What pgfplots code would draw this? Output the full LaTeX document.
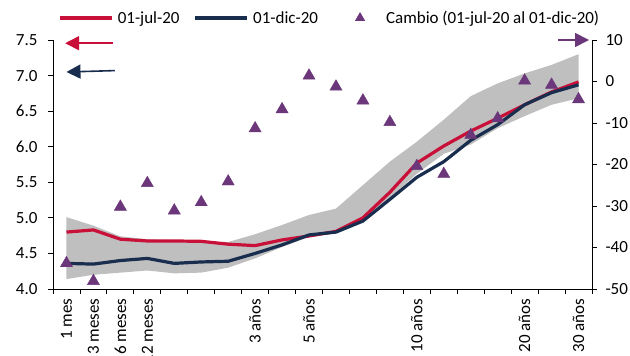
\documentclass[border=0pt]{standalone}
\usepackage{pgfplots}
\pgfplotsset{compat=1.18}
\usepackage{pgfplotstable}
\usepgfplotslibrary{fillbetween}
\usetikzlibrary{arrows.meta}
\usepackage{fontspec}
\setmainfont{Carlito}
\definecolor{cred}{RGB}{200,16,56}
\definecolor{cnavy}{RGB}{25,45,78}
\definecolor{cpurp}{RGB}{107,55,122}
\definecolor{cgray}{RGB}{191,191,191}

\pgfplotstableread{
x up lo red blue chg
0 5.01 4.14 4.80 4.36 -43.8
1 4.89 4.20 4.83 4.35 -48.1
2 4.74 4.23 4.70 4.40 -30.2
3 4.70 4.26 4.675 4.43 -24.5
4 4.68 4.22 4.675 4.36 -31.1
5 4.67 4.23 4.67 4.38 -29.1
6 4.66 4.30 4.63 4.39 -24.1
7 4.77 4.43 4.61 4.50 -11.3
8 4.90 4.59 4.69 4.62 -6.7
9 5.04 4.73 4.745 4.76 1.4
10 5.13 4.78 4.81 4.80 -1.25
11 5.46 4.95 5.00 4.955 -4.6
12 5.79 5.28 5.36 5.26 -9.8
13 6.07 5.62 5.77 5.57 -20.4
14 6.38 5.90 6.01 5.79 -22.3
15 6.71 6.03 6.22 6.09 -12.9
16 6.89 6.26 6.40 6.31 -8.9
17 7.03 6.43 6.59 6.59 0.2
18 7.15 6.59 6.77 6.76 -0.8
19 7.30 6.68 6.91 6.87 -4.3
}\data

\pgfplotsset{
  common/.style={
    at={(0,0)}, anchor=south west,
    scale only axis, width=539pt, height=249pt,
    xmin=-0.5, xmax=19.5,
    tick align=outside, major tick length=5pt,
    every tick/.style={black, line width=0.8pt},
    axis line style={black, line width=0.8pt},
    tick label style={font=\fontsize{17}{20}\selectfont, black},
    /pgf/number format/assume math mode=true,
    clip=false,
  },
  longline/.style={legend image code/.code={\path[draw=none] (0pt,0pt) -- (56pt,0pt); \draw[##1] (0pt,0pt) -- (52pt,0pt);}},
  trileg/.style={legend image code/.code={\path[draw=none] (0pt,0pt) -- (52pt,0pt);
     \begin{scope}[shift={(28pt,0pt)}, draw=cpurp, fill=cpurp]\pgfplotmarksize=5.5pt\pgfuseplotmark{triangle*}\end{scope}}},
}

\begin{document}
\begin{tikzpicture}
\begin{axis}[common,
  ymin=4, ymax=7.5,
  axis x line*=bottom, axis y line*=left,
  xtick={-0.5,0.5,...,19.5}, xticklabels={},
  extra x ticks={0,1,2,3,7,9,13,17,19},
  extra x tick labels={1 mes,3 meses,6 meses,12 meses,3 años,5 años,10 años,20 años,30 años},
  extra x tick style={major tick length=0pt, tick label style={rotate=90, anchor=east, xshift=-6pt}},
  ytick={4,4.5,...,7.5},
  yticklabel style={/pgf/number format/.cd, fixed, fixed zerofill, precision=1, /tikz/.cd, xshift=-7pt},
]
\addplot[name path=up, draw=none, forget plot] table[x=x, y=up] {\data};
\addplot[name path=lo, draw=none, forget plot] table[x=x, y=lo] {\data};
\addplot[cgray, forget plot] fill between[of=up and lo];
\addplot[cred, line width=3.2pt, line join=round] table[x=x, y=red] {\data};
\addplot[cnavy, line width=3.2pt, line join=round] table[x=x, y=blue] {\data};
\draw[cred, line width=1.6pt, -{Triangle[length=14pt,width=14pt]}] (axis cs:1.73,7.455) -- (axis cs:-0.05,7.455);
\draw[cnavy, line width=1.6pt, -{Triangle[length=14pt,width=14pt]}] (axis cs:1.80,7.07) -- (axis cs:-0.0,7.05);
\end{axis}
\begin{axis}[common,
  ymin=-50, ymax=10,
  axis y line*=right, axis x line=none,
  ytick={-50,-40,...,10},
  yticklabel style={xshift=5pt},
  legend columns=3,
  legend style={draw=none, fill=none, font=\fontsize{17}{20}\selectfont,
    at={(0,1)}, anchor=west, xshift=2pt, yshift=22pt,
    /tikz/every even column/.append style={column sep=12pt}},
]
\addlegendimage{cred, line width=3.2pt, longline}
\addlegendentry{01-jul-20}
\addlegendimage{cnavy, line width=3.2pt, longline}
\addlegendentry{01-dic-20}
\addplot[only marks, mark=triangle*, mark size=7pt, cpurp, mark options={fill=cpurp, draw=cpurp}, trileg] table[x=x, y=chg] {\data};
\addlegendentry{Cambio (01-jul-20 al 01-dic-20)}
\draw[cpurp, line width=1.6pt, -{Triangle[length=14pt,width=14pt]}] (axis cs:18.24,10) -- (axis cs:19.39,10);
\end{axis}
\pgfresetboundingbox
\useasboundingbox (-53pt,-67pt) rectangle (577pt,289pt);
\end{tikzpicture}
\end{document}
